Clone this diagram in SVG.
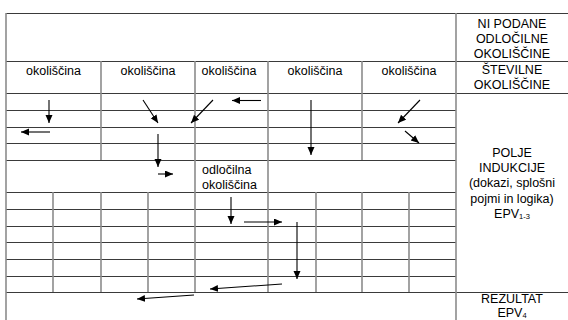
<svg xmlns="http://www.w3.org/2000/svg" width="568" height="320" viewBox="0 0 568 320">
<style>
.h{stroke:#3a3a3a;stroke-width:1;fill:none}
.v{stroke:#8c8c8c;stroke-width:1.6;fill:none}
.a{stroke:#000;stroke-width:1.1;fill:none;marker-end:url(#ah)}
text{font-family:'Liberation Sans',Arial,sans-serif;font-size:12.5px;fill:#000}
.c{text-anchor:middle}
.sub{font-size:7.5px}
</style>
<defs>
<marker id="ah" markerUnits="userSpaceOnUse" markerWidth="9" markerHeight="8" refX="8" refY="3.5" orient="auto">
<path d="M0,0 L8,3.5 L0,7 z" fill="#000"/>
</marker>
</defs>
<rect width="568" height="320" fill="#fff"/>
<g id="grid">
<path class="h" d="M6,13.5H568 M6,61.5H568 M6,93.5H568 M6,110.5H456 M6,127.5H456 M6,143.5H456 M6,160.5H456 M6,192.5H456 M6,209.5H456 M6,226.5H456 M6,242.5H456 M6,259.5H456 M6,276.5H456 M6,292.5H568"/>
<path class="v" d="M6,13V320 M456,13V320 M101,61V160 M195,61V292 M268,61V292 M362,61V160 M53,192V292 M101,192V292 M148,192V292 M316,192V292 M362,192V292 M409,192V292"/>
</g>
<g id="header-cells">
<text class="c" x="53.5" y="75">okoliščina</text>
<text class="c" x="148" y="75">okoliščina</text>
<text class="c" x="229" y="75">okoliščina</text>
<text class="c" x="315" y="75">okoliščina</text>
<text class="c" x="409" y="75">okoliščina</text>
</g>
<g id="ni-podane">
<text class="c" x="512" y="28">NI PODANE</text>
<text class="c" x="512" y="43">ODLOČILNE</text>
<text class="c" x="512" y="58">OKOLIŠČINE</text>
</g>
<g id="stevilne">
<text class="c" x="512" y="74">ŠTEVILNE</text>
<text class="c" x="512" y="89">OKOLIŠČINE</text>
</g>
<g id="polje">
<text class="c" x="512" y="156.5">POLJE</text>
<text class="c" x="512" y="172">INDUKCIJE</text>
<text class="c" x="512" y="187">(dokazi, splošni</text>
<text class="c" x="512" y="202.5">pojmi in logika)</text>
<text class="c" x="512" y="217.5">EPV<tspan class="sub" dy="1">1-3</tspan></text>
</g>
<g id="odlocilna">
<text x="202" y="174">odločilna</text>
<text x="202" y="189">okoliščina</text>
</g>
<g id="rezultat">
<text class="c" x="512" y="302.5">REZULTAT</text>
<text class="c" x="512" y="316.5">EPV<tspan class="sub" dy="1">4</tspan></text>
</g>
<g id="connectors">
<line class="a" x1="49" y1="100" x2="49" y2="123"/>
<line class="a" x1="50" y1="132" x2="21" y2="132"/>
<line class="a" x1="143" y1="100" x2="158" y2="123"/>
<line class="a" x1="213" y1="100" x2="191" y2="123"/>
<line class="a" x1="261" y1="100.5" x2="232" y2="100.5"/>
<line class="a" x1="158" y1="134" x2="158" y2="167"/>
<line class="a" x1="158" y1="174" x2="173" y2="174"/>
<line class="a" x1="311" y1="100" x2="311" y2="155"/>
<line class="a" x1="420" y1="100" x2="398" y2="123"/>
<line class="a" x1="405" y1="131" x2="419" y2="143"/>
<line class="a" x1="231" y1="197" x2="231" y2="224"/>
<line class="a" x1="244" y1="222" x2="282" y2="222"/>
<line class="a" x1="297" y1="222" x2="297" y2="279"/>
<line class="a" x1="282" y1="284" x2="210" y2="289"/>
<line class="a" x1="194" y1="295" x2="137" y2="299"/>
</g>
</svg>
